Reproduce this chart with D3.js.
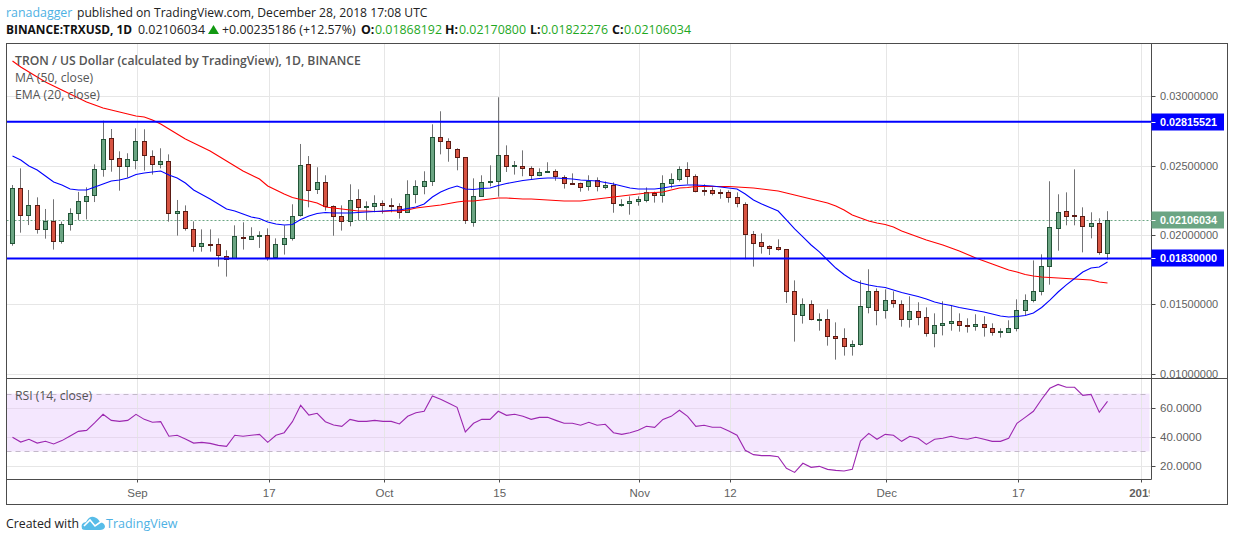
<!DOCTYPE html>
<html>
<head>
<meta charset="utf-8">
<script src="https://cdnjs.cloudflare.com/ajax/libs/d3/7.8.5/d3.min.js"></script>
<style>
html, body { margin: 0; padding: 0; background: #fff; }
svg { display: block; }
text { font-family: 'Liberation Sans', Arial, sans-serif; }
.os text, text.os { font-family: 'Open Sans', sans-serif; }
</style>
</head>
<body>
<script>
// daily candles, 17 Aug 2018 - 28 Dec 2018
var firstDay = Date.UTC(2018, 7, 17)
var lastDay = Date.UTC(2018, 11, 28)

var open = [0.01939,0.02336,0.02141,0.02213,0.02040,0.02098,0.01954,0.02076,0.02156,0.02242,
0.02286,0.02473,0.02697,0.02553,0.02495,0.02538,0.02675,0.02567,0.02509,0.02531,
0.02156,0.02170,0.02040,0.01918,0.01932,0.01932,0.01845,0.01831,0.01983,0.01968,
0.01990,0.01997,0.01838,0.01932,0.01975,0.02141,0.02509,0.02329,0.02379,0.02206,
0.02134,0.02098,0.02257,0.02199,0.02206,0.02228,0.02216,0.02206,0.02163,0.02293,
0.02350,0.02387,0.02704,0.02675,0.02617,0.02560,0.02091,0.02278,0.02379,0.02387,
0.02574,0.02500,0.02495,0.02480,0.02430,0.02451,0.02459,0.02415,0.02374,0.02372,
0.02350,0.02394,0.02343,0.02358,0.02218,0.02228,0.02242,0.02249,0.02300,0.02285,
0.02372,0.02401,0.02473,0.02423,0.02324,0.02322,0.02310,0.02307,0.02271,0.02221,
0.02004,0.01946,0.01917,0.01910,0.01896,0.01593,0.01420,0.01499,0.01388,0.01391,
0.01268,0.01254,0.01196,0.01210,0.01477,0.01593,0.01456,0.01528,0.01499,0.01391,
0.01449,0.01405,0.01290,0.01348,0.01362,0.01376,0.01348,0.01340,0.01355,0.01326,
0.01297,0.01297,0.01326,0.01456,0.01528,0.01593,0.01773,0.02047,0.02170,0.02141,
0.02134,0.02062,0.02084,0.01868]

var high = [0.02360,0.02480,0.02324,0.02271,0.02187,0.02257,0.02096,0.02192,0.02310,0.02343,
0.02509,0.02824,0.02764,0.02603,0.02589,0.02769,0.02762,0.02610,0.02625,0.02581,
0.02252,0.02213,0.02098,0.02040,0.02040,0.01975,0.01889,0.02069,0.02091,0.02055,
0.02026,0.02047,0.01975,0.02069,0.02221,0.02656,0.02569,0.02488,0.02430,0.02213,
0.02213,0.02365,0.02329,0.02242,0.02286,0.02249,0.02264,0.02228,0.02394,0.02394,
0.02459,0.02798,0.02892,0.02697,0.02625,0.02560,0.02408,0.02430,0.02502,0.02993,
0.02646,0.02533,0.02610,0.02495,0.02480,0.02524,0.02473,0.02430,0.02444,0.02377,
0.02430,0.02415,0.02386,0.02379,0.02257,0.02278,0.02278,0.02343,0.02312,0.02430,
0.02444,0.02495,0.02524,0.02437,0.02365,0.02343,0.02329,0.02322,0.02307,0.02235,
0.02028,0.02011,0.01925,0.01968,0.01896,0.01672,0.01542,0.01528,0.01434,0.01463,
0.01369,0.01326,0.01239,0.01672,0.01752,0.01614,0.01607,0.01593,0.01528,0.01557,
0.01514,0.01477,0.01434,0.01521,0.01492,0.01434,0.01398,0.01427,0.01413,0.01362,
0.01326,0.01384,0.01535,0.01571,0.01816,0.01860,0.02387,0.02293,0.02307,0.02473,
0.02199,0.02163,0.02120,0.02171]

var low = [0.01922,0.02016,0.02071,0.02009,0.01973,0.01894,0.01937,0.02031,0.02108,0.02112,
0.02237,0.02420,0.02456,0.02319,0.02413,0.02473,0.02464,0.02435,0.02480,0.02096,
0.01995,0.02031,0.01879,0.01879,0.01879,0.01771,0.01699,0.01831,0.01894,0.01963,
0.01906,0.01814,0.01831,0.01858,0.01959,0.02132,0.02199,0.02295,0.02175,0.01994,
0.02031,0.02062,0.02105,0.02105,0.02163,0.02153,0.02163,0.02117,0.02163,0.02228,
0.02293,0.02353,0.02581,0.02528,0.02466,0.02079,0.02059,0.02278,0.02350,0.02276,
0.02454,0.02435,0.02423,0.02401,0.02423,0.02447,0.02391,0.02334,0.02365,0.02312,
0.02319,0.02314,0.02329,0.02160,0.02204,0.02146,0.02211,0.02235,0.02233,0.02233,
0.02336,0.02386,0.02365,0.02307,0.02283,0.02285,0.02261,0.02233,0.02199,0.01824,
0.01771,0.01865,0.01855,0.01886,0.01509,0.01230,0.01360,0.01384,0.01309,0.01201,
0.01100,0.01129,0.01129,0.01201,0.01434,0.01348,0.01396,0.01475,0.01338,0.01331,
0.01348,0.01266,0.01189,0.01275,0.01309,0.01302,0.01295,0.01309,0.01266,0.01273,
0.01259,0.01297,0.01304,0.01420,0.01513,0.01564,0.01641,0.01886,0.02069,0.02069,
0.01874,0.01975,0.01857,0.01822]

var close = [0.02336,0.02141,0.02213,0.02040,0.02098,0.01954,0.02076,0.02156,0.02242,0.02278,
0.02473,0.02690,0.02545,0.02495,0.02545,0.02675,0.02574,0.02509,0.02531,0.02156,
0.02170,0.02047,0.01918,0.01939,0.01930,0.01853,0.01824,0.01990,0.01975,0.01990,
0.01997,0.01838,0.01932,0.01975,0.02134,0.02502,0.02322,0.02379,0.02206,0.02134,
0.02098,0.02249,0.02199,0.02206,0.02228,0.02213,0.02211,0.02163,0.02293,0.02350,
0.02387,0.02704,0.02675,0.02625,0.02560,0.02105,0.02278,0.02379,0.02387,0.02574,
0.02495,0.02502,0.02480,0.02430,0.02451,0.02459,0.02423,0.02372,0.02370,0.02343,
0.02386,0.02350,0.02358,0.02228,0.02223,0.02242,0.02257,0.02307,0.02285,0.02372,
0.02401,0.02473,0.02423,0.02314,0.02319,0.02305,0.02305,0.02271,0.02228,0.02004,
0.01939,0.01917,0.01903,0.01896,0.01593,0.01427,0.01499,0.01391,0.01391,0.01268,
0.01254,0.01196,0.01210,0.01485,0.01593,0.01456,0.01528,0.01506,0.01391,0.01449,
0.01405,0.01290,0.01348,0.01362,0.01376,0.01348,0.01340,0.01355,0.01333,0.01297,
0.01304,0.01326,0.01456,0.01528,0.01593,0.01773,0.02055,0.02163,0.02134,0.02134,
0.02062,0.02084,0.01874,0.02106]

var ma50 = [0.03255,0.03211,0.03175,0.03139,0.03103,0.03074,0.03045,0.03017,0.02988,0.02959,
0.02937,0.02916,0.02901,0.02887,0.02872,0.02858,0.02851,0.02829,0.02800,0.02764,
0.02728,0.02692,0.02663,0.02634,0.02605,0.02569,0.02533,0.02497,0.02461,0.02432,
0.02403,0.02353,0.02324,0.02295,0.02270,0.02255,0.02245,0.02230,0.02201,0.02194,
0.02187,0.02180,0.02172,0.02172,0.02169,0.02169,0.02172,0.02172,0.02180,0.02194,
0.02201,0.02208,0.02216,0.02227,0.02237,0.02245,0.02245,0.02252,0.02259,0.02266,
0.02266,0.02263,0.02259,0.02259,0.02255,0.02252,0.02248,0.02245,0.02245,0.02245,
0.02252,0.02259,0.02266,0.02273,0.02281,0.02288,0.02295,0.02302,0.02306,0.02310,
0.02324,0.02338,0.02342,0.02349,0.02349,0.02349,0.02349,0.02349,0.02346,0.02342,
0.02338,0.02331,0.02324,0.02317,0.02302,0.02288,0.02273,0.02259,0.02245,0.02230,
0.02208,0.02180,0.02144,0.02122,0.02100,0.02086,0.02075,0.02057,0.02028,0.02006,
0.01985,0.01963,0.01945,0.01927,0.01905,0.01884,0.01859,0.01833,0.01812,0.01790,
0.01768,0.01747,0.01732,0.01714,0.01703,0.01696,0.01693,0.01689,0.01685,0.01682,
0.01678,0.01675,0.01660,0.01653]

var ema20 = [0.02569,0.02540,0.02497,0.02468,0.02425,0.02382,0.02360,0.02331,0.02324,0.02324,
0.02346,0.02367,0.02389,0.02396,0.02411,0.02436,0.02447,0.02454,0.02461,0.02432,
0.02411,0.02374,0.02324,0.02291,0.02259,0.02223,0.02187,0.02172,0.02151,0.02129,
0.02118,0.02093,0.02079,0.02071,0.02075,0.02111,0.02136,0.02154,0.02162,0.02158,
0.02158,0.02158,0.02162,0.02165,0.02169,0.02172,0.02176,0.02180,0.02190,0.02201,
0.02223,0.02273,0.02310,0.02335,0.02353,0.02331,0.02328,0.02335,0.02338,0.02356,
0.02371,0.02382,0.02392,0.02400,0.02407,0.02411,0.02411,0.02407,0.02403,0.02396,
0.02392,0.02389,0.02378,0.02367,0.02353,0.02338,0.02331,0.02331,0.02331,0.02338,
0.02349,0.02356,0.02360,0.02360,0.02356,0.02353,0.02346,0.02338,0.02331,0.02295,
0.02252,0.02223,0.02198,0.02172,0.02108,0.02043,0.01985,0.01927,0.01877,0.01819,
0.01761,0.01714,0.01675,0.01653,0.01639,0.01628,0.01620,0.01602,0.01584,0.01570,
0.01556,0.01538,0.01516,0.01501,0.01491,0.01476,0.01465,0.01455,0.01444,0.01429,
0.01415,0.01408,0.01411,0.01418,0.01437,0.01476,0.01530,0.01588,0.01639,0.01685,
0.01732,0.01761,0.01768,0.01804]

var rsi = [39.8,36.5,38.4,35.8,37.0,35.2,37.5,40.7,43.9,44.6,
49.9,55.7,51.5,50.8,51.5,55.7,52.2,50.2,50.6,40.5,
41.2,38.6,35.8,36.3,35.6,34.2,33.5,41.2,40.5,41.2,
41.8,36.3,41.2,43.0,50.6,61.9,55.2,56.4,50.6,48.3,
47.4,52.2,50.8,50.8,51.5,50.8,50.8,49.0,54.3,56.8,
57.8,68.4,66.1,63.3,60.5,43.5,49.5,52.2,52.2,57.8,
55.0,55.7,54.3,52.2,53.6,53.6,51.5,49.5,49.5,48.1,
50.2,48.1,48.8,43.0,41.8,43.0,44.6,47.4,46.7,52.2,
54.3,58.5,54.3,47.4,48.1,46.7,46.7,44.1,41.2,30.8,
27.8,27.1,27.1,26.4,18.3,15.5,21.8,19.0,19.7,17.6,
16.9,16.5,17.6,37.2,42.5,38.4,41.8,41.2,37.0,40.5,
39.1,34.9,38.4,39.1,40.5,39.1,38.4,39.8,38.4,37.0,
37.0,39.1,49.5,53.6,57.8,66.1,73.7,76.4,74.4,74.4,
68.8,69.5,57.1,64.7]

var priceTicks = [0.03, 0.025, 0.02, 0.015, 0.01]
var rsiTicks = [60, 40, 20]
var rsiBand = [70, 30]
var supportLevels = [0.02815521, 0.0183]
var lastPrice = 0.02106034
var timeTicks = [Date.UTC(2018,8,1), Date.UTC(2018,8,17), Date.UTC(2018,9,1), Date.UTC(2018,9,15), Date.UTC(2018,10,1), Date.UTC(2018,10,12), Date.UTC(2018,11,1), Date.UTC(2018,11,17), Date.UTC(2019,0,1)]
var timeLabels = ['Sep', '17', 'Oct', '15', 'Nov', '12', 'Dec', '17', '2019']

var days = d3.utcDay.range(new Date(firstDay), new Date(lastDay + 1))

var x = d3.scaleUtc().domain([firstDay, lastDay]).range([12.5, 1107.5])
var y = d3.scaleLinear().domain([0.01, 0.03]).range([373.5, 96.3])
var yRsi = d3.scaleLinear().domain([20, 70]).range([465.9, 393.65])

var left = 6.5, right = 1151.5, top_ = 43.5, sep = 378.5, bottom = 479.5

var grey = '#4c4c4c', gridColor = '#e6e6e6', textGrey = '#5f5f5f'

var svg = d3.select('body').append('svg').attr('width', 1234).attr('height', 541)

svg.append('clipPath').attr('id', 'axisclip').append('rect')
   .attr('x', left).attr('y', bottom).attr('width', right - left - 2).attr('height', 25)

// rsi band goes under the grid
svg.append('rect')
   .attr('x', left).attr('width', right - left - 2)
   .attr('y', yRsi(rsiBand[0])).attr('height', yRsi(rsiBand[1]) - yRsi(rsiBand[0]))
   .attr('fill', '#f4e7fe')

// grid
var grid = svg.append('g').attr('stroke', gridColor).attr('stroke-width', 1).attr('fill', 'none')
grid.selectAll('.v').data(timeTicks).enter().append('line')
    .attr('x1', function(d){ return Math.round(x(d) + 1) + 0.5 })
    .attr('x2', function(d){ return Math.round(x(d) + 1) + 0.5 })
    .attr('y1', top_).attr('y2', bottom)
grid.selectAll('.p').data(priceTicks).enter().append('line')
    .attr('x1', left).attr('x2', right)
    .attr('y1', function(d){ return Math.round(y(d)) + 0.5 })
    .attr('y2', function(d){ return Math.round(y(d)) + 0.5 })
grid.selectAll('.r').data(rsiTicks).enter().append('line')
    .attr('x1', left).attr('x2', right)
    .attr('y1', function(d){ return Math.round(yRsi(d)) + 0.5 })
    .attr('y2', function(d){ return Math.round(yRsi(d)) + 0.5 })
    .attr('stroke', function(d){ return d == 20 ? gridColor : '#e6d8ee' })

// rsi band edges
svg.selectAll('.band').data(rsiBand).enter().append('line')
   .attr('x1', left).attr('x2', right - 2)
   .attr('y1', function(d){ return Math.round(yRsi(d)) + 0.5 })
   .attr('y2', function(d){ return Math.round(yRsi(d)) + 0.5 })
   .attr('stroke', '#c3b8c9').attr('stroke-dasharray', '5,4')

// last price dotted line
svg.append('line')
   .attr('x1', left).attr('x2', right)
   .attr('y1', Math.round(y(lastPrice)) + 0.5).attr('y2', Math.round(y(lastPrice)) + 0.5)
   .attr('stroke', '#6ba583').attr('stroke-dasharray', '2,2')

// candles
var candle = svg.append('g').selectAll('g').data(days).enter().append('g')

function isUp(i){ return close[i] >= open[i] }
function snap(v){ return Math.round(v) + 0.5 }

candle.append('line')
      .attr('x1', function(d){ return Math.floor(x(d)) + 0.5 })
      .attr('x2', function(d){ return Math.floor(x(d)) + 0.5 })
      .attr('y1', function(d, i){ return y(high[i]) })
      .attr('y2', function(d, i){ return y(low[i]) })
      .attr('stroke', '#737375').attr('stroke-width', 1)

candle.append('rect')
      .attr('x', function(d){ return Math.floor(x(d)) - 1.5 })
      .attr('width', 4)
      .attr('y', function(d, i){ return snap(y(Math.max(open[i], close[i]))) })
      .attr('height', function(d, i){
        return Math.max(1, Math.round(y(Math.min(open[i], close[i]))) - Math.round(y(Math.max(open[i], close[i]))))
      })
      .attr('fill', function(d, i){ return isUp(i) ? '#6ba583' : '#d75442' })
      .attr('stroke', function(d, i){ return isUp(i) ? '#225437' : '#5b1a13' })
      .attr('stroke-width', 1)

// ma / ema
function priceLine(values, color){
  var line = d3.line()
    .x(function(d, i){ return x(days[i]) })
    .y(function(d){ return y(d) })
  svg.append('path').datum(values)
     .attr('d', line).attr('fill', 'none')
     .attr('stroke', color).attr('stroke-width', 1.1)
}
priceLine(ma50, '#ff0000')
priceLine(ema20, '#0000ff')

// horizontal levels
svg.selectAll('.level').data(supportLevels).enter().append('line')
   .attr('x1', left).attr('x2', right)
   .attr('y1', function(d){ return y(d) })
   .attr('y2', function(d){ return y(d) })
   .attr('stroke', '#0000ff').attr('stroke-width', 2)

// rsi line
svg.append('path').datum(rsi)
   .attr('d', d3.line()
     .x(function(d, i){ return x(days[i]) })
     .y(function(d){ return yRsi(d) }))
   .attr('fill', 'none').attr('stroke', '#9c27b0').attr('stroke-width', 1.1)

// frame
var frame = svg.append('g').attr('stroke', grey).attr('stroke-width', 1).attr('fill', 'none')
frame.append('rect').attr('x', left).attr('y', top_).attr('width', 1228 - left - 0.5).attr('height', 504.5 - top_)
frame.append('line').attr('x1', right).attr('x2', right).attr('y1', top_).attr('y2', bottom)
frame.append('line').attr('x1', left).attr('x2', 1228).attr('y1', sep).attr('y2', sep)
frame.append('line').attr('x1', left).attr('x2', right).attr('y1', bottom).attr('y2', bottom)

// y axis labels
svg.selectAll('.pt').data(priceTicks).enter().append('text')
   .attr('x', 1160).attr('y', function(d){ return y(d) + 4 })
   .attr('font-size', 11).attr('fill', textGrey)
   .text(function(d){ return d.toFixed(8) })
svg.selectAll('.ptick').data(priceTicks).enter().append('line')
   .attr('x1', right).attr('x2', right + 4)
   .attr('y1', function(d){ return snap(y(d)) })
   .attr('y2', function(d){ return snap(y(d)) })
   .attr('stroke', grey)
svg.selectAll('.rt').data(rsiTicks).enter().append('text')
   .attr('x', 1160).attr('y', function(d){ return yRsi(d) + 4 })
   .attr('font-size', 11.5).attr('fill', textGrey)
   .text(function(d){ return d.toFixed(4) })
svg.selectAll('.rtick').data(rsiTicks).enter().append('line')
   .attr('x1', right).attr('x2', right + 4)
   .attr('y1', function(d){ return snap(yRsi(d)) })
   .attr('y2', function(d){ return snap(yRsi(d)) })
   .attr('stroke', grey)

// price tags
function tag(value, color){
  var cy = y(value)
  svg.append('rect').attr('x', right).attr('y', Math.round(cy) - 8.5)
     .attr('width', 1224 - right).attr('height', 17).attr('fill', color)
  svg.append('line').attr('x1', right).attr('x2', right + 4)
     .attr('y1', snap(cy)).attr('y2', snap(cy)).attr('stroke', '#fff')
  svg.append('text').attr('x', 1160).attr('y', cy + 4)
     .attr('font-size', 10.8).attr('font-weight', 'bold').attr('fill', '#fff')
     .text(value.toFixed(8))
}
tag(supportLevels[0], '#0000ff')
tag(supportLevels[1], '#0000ff')
tag(lastPrice, '#6ba583')

// x axis
var xAxis = svg.append('g').attr('clip-path', 'url(#axisclip)')
xAxis.selectAll('text').data(timeTicks).enter().append('text')
     .attr('x', function(d){ return x(d) + 1.5 })
     .attr('y', 497)
     .attr('text-anchor', 'middle').attr('font-size', 11.5).attr('fill', textGrey)
     .attr('font-weight', function(d, i){ return timeLabels[i] == '2019' ? 'bold' : 'normal' })
     .text(function(d, i){ return timeLabels[i] })
xAxis.selectAll('line').data(timeTicks).enter().append('line')
     .attr('x1', function(d){ return Math.round(x(d) + 1) + 0.5 })
     .attr('x2', function(d){ return Math.round(x(d) + 1) + 0.5 })
     .attr('y1', bottom).attr('y2', bottom + 3).attr('stroke', grey)

// legend
var legend = svg.append('g').attr('class', 'os').attr('fill', '#555')
legend.append('text').attr('x', 15).attr('y', 65).attr('font-size', 12.2).attr('font-weight', 600)
      .text('TRON / US Dollar (calculated by TradingView), 1D, BINANCE')
legend.append('text').attr('x', 15).attr('y', 82).attr('font-size', 12.2).text('MA (50, close)')
legend.append('text').attr('x', 15).attr('y', 99).attr('font-size', 12.2).text('EMA (20, close)')
legend.append('text').attr('x', 15).attr('y', 400).attr('font-size', 12.2).text('RSI (14, close)')

// header
var head = svg.append('g').attr('class', 'os').attr('font-size', 12.4)
head.append('text').attr('x', 6).attr('y', 17).attr('fill', '#4db1e4').text('ranadagger')
head.append('text').attr('x', 77).attr('y', 17).attr('font-size', 12.15).attr('fill', '#222').text('published on TradingView.com, December 28, 2018 17:08 UTC')
head.append('text').attr('x', 6).attr('y', 34).attr('font-size', 11.9).attr('fill', '#111').attr('font-weight', 700).text('BINANCE:TRXUSD, 1D')
head.append('text').attr('x', 138).attr('y', 34).attr('fill', '#222').text('0.02106034')
head.append('path').attr('d', 'M208,34L213.5,25L219,34Z').attr('fill', '#129912')
head.append('text').attr('x', 222).attr('y', 34).attr('fill', '#222').text('+0.00235186 (+12.57%)')

var ohlcNames = ['O:', 'H:', 'L:', 'C:']
var ohlcValues = ['0.01868192', '0.02170800', '0.01822276', '0.02106034']
var ohlcNameX = [361, 445, 530, 612]
var ohlcValueX = [375, 459, 541, 624]
ohlcNames.forEach(function(n, i){
  head.append('text').attr('x', ohlcNameX[i]).attr('y', 34).attr('fill', '#111').attr('font-weight', 700).text(n)
  head.append('text').attr('x', ohlcValueX[i]).attr('y', 34).attr('fill', '#1fa81f').text(ohlcValues[i])
})

// footer
var foot = svg.append('g').attr('class', 'os')
foot.append('text').attr('x', 6).attr('y', 528).attr('font-size', 12.3).attr('fill', '#222').text('Created with')
foot.append('path')
    .attr('d', 'M82,529 Q80,523 86,522 Q89,516 94,517 Q98,518 100,522 Q105,523 105,527 Q104,530 100,530 L86,530 Q83,530 82,529Z')
    .attr('fill', '#57bce8')
foot.append('path').attr('d', 'M84,526 L90,520 L95,526 L102,521')
    .attr('fill', 'none').attr('stroke', '#fff').attr('stroke-width', 1.6)
foot.append('text').attr('x', 106).attr('y', 528).attr('font-size', 12.5).attr('fill', '#4db1e4').text('TradingView')
</script>
</body>
</html>
